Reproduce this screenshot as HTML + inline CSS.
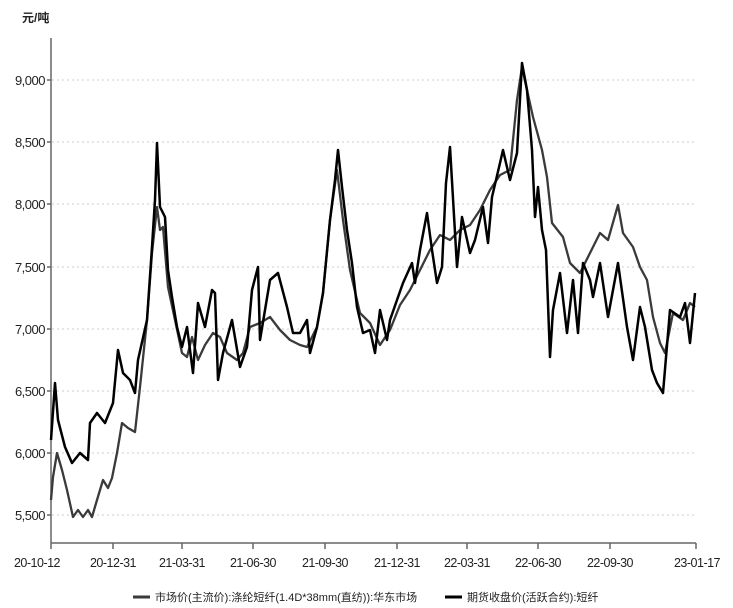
<!DOCTYPE html><html><head><meta charset="utf-8"><style>body{margin:0;background:#fff}svg{display:block}text{font-family:"Liberation Sans","Noto Sans CJK SC",sans-serif;fill:#222}</style></head><body>
<svg width="733" height="608" viewBox="0 0 733 608">
<text x="22" y="22" font-size="12" font-weight="bold">元/吨</text>
<g stroke="#ccc" stroke-dasharray="2,3" stroke-width="1">
<line x1="52" x2="695" y1="80" y2="80"/><line x1="52" x2="695" y1="142" y2="142"/><line x1="52" x2="695" y1="204" y2="204"/><line x1="52" x2="695" y1="267" y2="267"/><line x1="52" x2="695" y1="329" y2="329"/><line x1="52" x2="695" y1="391" y2="391"/><line x1="52" x2="695" y1="453" y2="453"/><line x1="52" x2="695" y1="515" y2="515"/></g>
<g font-size="13" text-anchor="end" style="letter-spacing:-0.5px"><text x="45" y="85">9,000</text><text x="45" y="147">8,500</text><text x="45" y="209">8,000</text><text x="45" y="272">7,500</text><text x="45" y="334">7,000</text><text x="45" y="396">6,500</text><text x="45" y="458">6,000</text><text x="45" y="520">5,500</text></g>
<g stroke="#666" stroke-width="1.5"><line x1="51" y1="38" x2="51" y2="543"/><line x1="51" y1="543" x2="696" y2="543"/>
<line x1="47" x2="51" y1="80" y2="80"/><line x1="47" x2="51" y1="142" y2="142"/><line x1="47" x2="51" y1="204" y2="204"/><line x1="47" x2="51" y1="267" y2="267"/><line x1="47" x2="51" y1="329" y2="329"/><line x1="47" x2="51" y1="391" y2="391"/><line x1="47" x2="51" y1="453" y2="453"/><line x1="47" x2="51" y1="515" y2="515"/>
<line x1="51" x2="51" y1="543" y2="549"/><line x1="113" x2="113" y1="543" y2="549"/><line x1="182" x2="182" y1="543" y2="549"/><line x1="253" x2="253" y1="543" y2="549"/><line x1="325" x2="325" y1="543" y2="549"/><line x1="397" x2="397" y1="543" y2="549"/><line x1="467" x2="467" y1="543" y2="549"/><line x1="538" x2="538" y1="543" y2="549"/><line x1="610" x2="610" y1="543" y2="549"/><line x1="696" x2="696" y1="543" y2="549"/></g>
<g font-size="12.5" text-anchor="middle" style="letter-spacing:-0.5px"><text x="37" y="567">20-10-12</text><text x="113" y="567">20-12-31</text><text x="182" y="567">21-03-31</text><text x="253" y="567">21-06-30</text><text x="325" y="567">21-09-30</text><text x="397" y="567">21-12-31</text><text x="467" y="567">22-03-31</text><text x="538" y="567">22-06-30</text><text x="610" y="567">22-09-30</text><text x="697" y="567">23-01-17</text></g>
<polyline fill="none" stroke="#3a3a3a" stroke-width="2.3" stroke-linejoin="round" points="51,500 53,477 57,453 62,470 67,490 73,517 78,510 83,517 88,510 92,517 97,500 103,480 108,488 112,478 117,453 122,423 128,428 135,432 140,387 147,320 152,253 157,207 160,230 163,227 168,287 175,320 182,353 187,357 192,337 198,360 205,345 213,333 220,337 227,353 237,360 243,353 250,327 260,323 270,317 280,330 290,340 300,345 307,347 317,327 323,293 330,220 337,170 343,220 350,270 360,313 370,323 380,345 390,330 400,305 410,290 420,270 430,250 440,235 450,240 460,230 470,225 480,210 490,190 500,175 510,170 517,100 522,67 527,90 533,117 542,150 547,177 552,223 563,237 570,263 580,273 593,247 600,233 608,240 618,205 623,233 633,247 640,267 647,280 653,317 660,343 665,353 673,313 683,320 690,303 695,307"/>
<polyline fill="none" stroke="#000" stroke-width="2.5" stroke-linejoin="round" points="51,440 55,383 58,420 65,447 72,463 80,453 88,460 90,423 97,413 105,423 113,403 118,350 123,373 130,380 135,393 138,360 147,320 152,247 155,200 157,143 160,207 165,217 168,270 172,297 177,327 182,347 187,327 193,373 198,303 205,327 212,290 215,293 218,380 223,353 232,320 240,367 247,347 252,290 258,267 260,340 270,280 278,273 287,307 293,333 300,333 307,320 310,353 317,327 323,293 330,220 335,180 338,150 342,187 347,230 352,263 357,307 363,333 370,330 375,353 380,310 387,340 390,320 397,300 403,283 412,263 415,283 420,250 427,213 432,250 437,283 442,267 446,183 450,147 457,267 462,217 470,253 475,240 483,207 488,243 492,197 500,163 503,150 510,180 517,153 522,63 527,90 532,150 535,217 538,187 542,230 546,250 550,357 553,310 560,273 567,333 573,280 578,333 583,263 590,280 593,297 600,263 608,317 618,263 627,327 633,360 640,307 645,327 652,370 657,383 663,393 670,310 680,317 685,303 690,343 695,293"/>
<line x1="133" x2="150" y1="597" y2="597" stroke="#3a3a3a" stroke-width="3"/><text x="155" y="601" font-size="11">市场价(主流价):涤纶短纤(1.4D*38mm(直纺)):华东市场</text>
<line x1="445" x2="462" y1="597" y2="597" stroke="#000" stroke-width="3"/><text x="467" y="601" font-size="11">期货收盘价(活跃合约):短纤</text>
</svg></body></html>
